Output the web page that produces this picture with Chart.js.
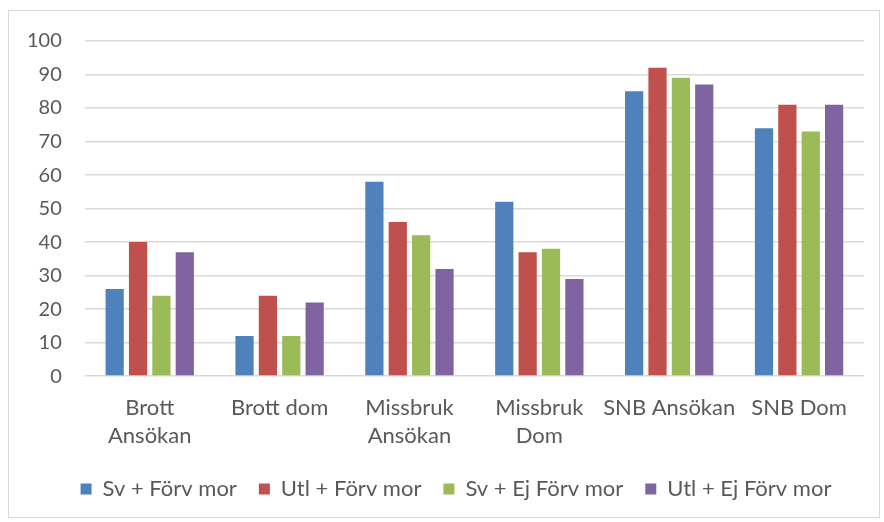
<!DOCTYPE html>
<html>
<head>
<meta charset="utf-8">
<script src="https://cdn.jsdelivr.net/npm/chart.js@4/dist/chart.umd.min.js"></script>
<style>
  html, body { margin: 0; padding: 0; background: #fff; }
  #wrap { position: relative; width: 884px; height: 522px; }
</style>
</head>
<body>
<div id="wrap"><canvas id="c" width="884" height="522"></canvas></div>
<script>
const categories = [["Brott", "Ansökan"], "Brott dom", ["Missbruk", "Ansökan"], ["Missbruk", "Dom"], "SNB Ansökan", "SNB Dom"];
const seriesNames = ["Sv + Förv mor", "Utl + Förv mor", "Sv + Ej Förv mor", "Utl + Ej Förv mor"];
const svForv = [26, 12, 58, 52, 85, 74];
const utlForv = [40, 24, 46, 37, 92, 81];
const svEjForv = [24, 12, 42, 38, 89, 73];
const utlEjForv = [37, 22, 32, 29, 87, 81];
const yTicks = [0, 10, 20, 30, 40, 50, 60, 70, 80, 90, 100];
const colors = ["#4f81bd", "#c0504d", "#9bbb59", "#8064a2"];

const seriesValues = [svForv, utlForv, svEjForv, utlEjForv];

const AXIS_SHRINK = 4;
const LEGEND_SHIFT_X = 22;

const borderPlugin = {
  id: 'outerBorder',
  afterLayout(chart) {
    const lg = chart.legend;
    if (lg) { lg.left += LEGEND_SHIFT_X; lg.right += LEGEND_SHIFT_X; }
  },
  beforeDraw(chart) {
    const ctx = chart.ctx;
    ctx.save();
    ctx.fillStyle = '#ffffff';
    ctx.fillRect(0, 0, chart.width, chart.height);
    ctx.strokeStyle = '#d9d9d9';
    ctx.lineWidth = 1;
    ctx.strokeRect(8.5, 10.5, 871, 507);
    ctx.restore();
  }
};

Chart.defaults.font.family = "Lato, 'Open Sans', sans-serif";
Chart.defaults.color = '#595959';

new Chart(document.getElementById('c'), {
  type: 'bar',
  data: {
    labels: categories,
    datasets: seriesNames.map((name, i) => ({
      label: name,
      data: seriesValues[i],
      backgroundColor: colors[i],
      borderWidth: 0,
      categoryPercentage: 0.72,
      barPercentage: 0.78
    }))
  },
  options: {
    responsive: false,
    animation: false,
    layout: { padding: { left: 4, right: 20, top: 41, bottom: 12 } },
    plugins: {
      tooltip: { enabled: false },
      legend: {
        position: 'bottom',
        labels: {
          boxWidth: 11,
          boxHeight: 11,
          padding: 22,
          font: { size: 22 },
          color: '#595959'
        }
      }
    },
    scales: {
      x: {
        grid: { display: false },
        border: { display: false },
        afterFit(scale) { scale.height -= AXIS_SHRINK; },
        ticks: { font: { size: 22, lineHeight: 1.27 }, color: '#595959', maxRotation: 0, autoSkip: false, padding: 10 }
      },
      y: {
        min: 0,
        max: 100,
        afterBuildTicks(scale) { scale.ticks = yTicks.map(v => ({ value: v })); },
        grid: { color: '#d9d9d9', lineWidth: 1.5, drawTicks: false },
        border: { display: false },
        ticks: { font: { size: 20 }, color: '#595959', padding: 23 }
      }
    }
  },
  plugins: [borderPlugin]
});
</script>
</body>
</html>
